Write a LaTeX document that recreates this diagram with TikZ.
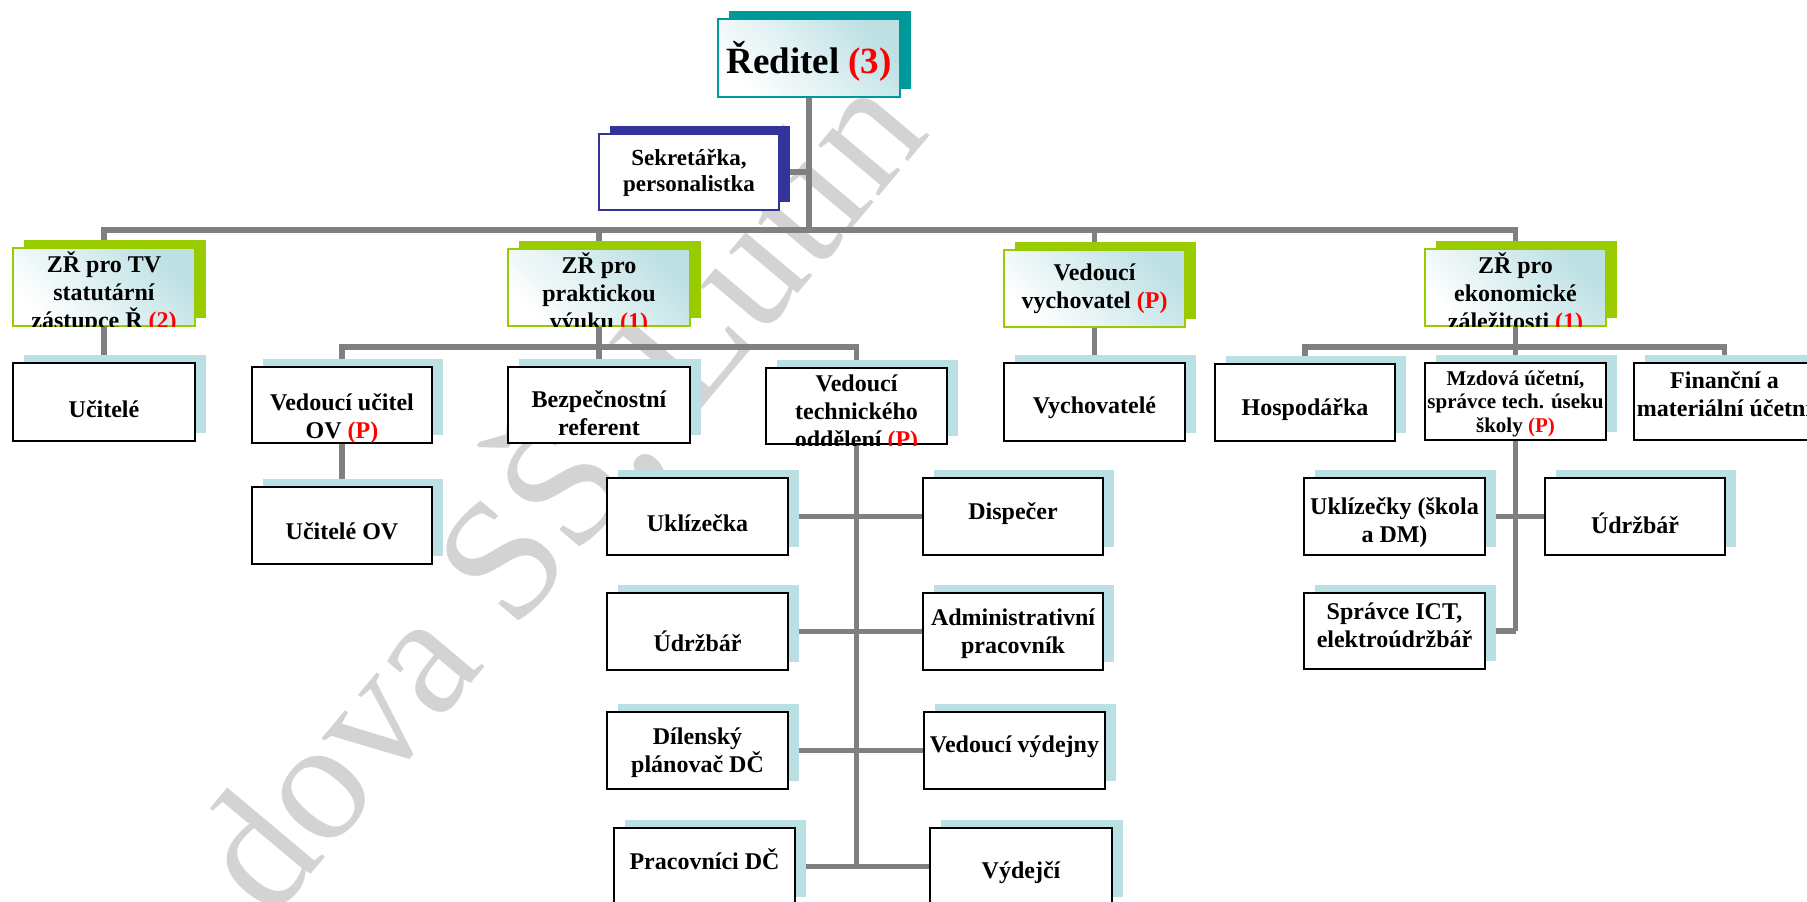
\documentclass[tikz,border=0pt]{standalone}
\usepackage{fontspec}
\setmainfont{Liberation Serif}
\usetikzlibrary{fit}
\pgfdeclarelayer{bg}
\pgfsetlayers{bg,main}
\definecolor{cgray}{HTML}{808080}
\definecolor{cgreen}{HTML}{99CC00}
\definecolor{cteal}{HTML}{009999}
\definecolor{cnavy}{HTML}{333399}
\definecolor{cshadow}{HTML}{BBE0E3}
\definecolor{cgrad}{HTML}{BCE0E4}
\definecolor{cred}{HTML}{FF0000}
\definecolor{cwater}{HTML}{D3D3D3}
\newcommand{\redtx}[1]{\textcolor{cred}{#1}}
\tikzset{
  cline/.style={draw=cgray, line width=5.5pt},
  txt/.style={font=\fontsize{24}{28}\selectfont\bfseries, align=center, inner sep=0pt},
  greensh/.style={fill=cgreen},
  tealsh/.style={fill=cteal},
  navysh/.style={fill=cnavy},
  bluesh/.style={fill=cshadow},
  gradfill/.style={shading=axis, top color=cgrad, bottom color=white, shading angle=-45},
  greenfr/.style={draw=cgreen, line width=1.5pt, inner sep=0pt, gradfill},
  tealfr/.style={draw=cteal, line width=1.5pt, inner sep=0pt, gradfill},
  navyfr/.style={draw=cnavy, line width=1.5pt, inner sep=0pt, fill=white},
  bluefr/.style={draw=black, line width=2pt, inner sep=0pt, fill=white},
}
\newcommand{\obox}[6][]{%
  \path[#5sh] ([shift={(11,-8)}]#3) rectangle ([shift={(11,-8)}]#4);
  \node[#5fr, fit={(#3) (#4)}] (#2) {};
  \begin{scope}
    \clip (#2.south west) rectangle (#2.north east);
    \node[txt, #1] (#2-t) at (#2.center) {#6};
  \end{scope}}
\begin{document}
\begin{tikzpicture}[x=1pt,y=-1pt]
\useasboundingbox (0,0) rectangle (1807,902);
\clip (0,0) rectangle (1807,902);

\obox[yshift=-3pt,font=\fontsize{37}{40}\selectfont\bfseries]{red}{718,19}{900,97}{teal}{Ředitel \redtx{(3)}}
\obox[yshift=-1pt,font=\fontsize{23}{26}\selectfont\bfseries]{sek}{599,134}{779,210}{navy}{Sekretářka,\\personalistka}
\obox[yshift=-6pt]{zrtv}{13,248}{195,326}{green}{ZŘ pro TV\\statutární\\zástupce Ř \redtx{(2)}}
\obox[yshift=-6pt]{zrpv}{508,249}{690,326}{green}{ZŘ pro\\praktickou\\výuku \redtx{(1)}}
\obox{vvych}{1004,250}{1185,327}{green}{Vedoucí\\vychovatel \redtx{(P)}}
\obox[yshift=-6pt]{zrek}{1425,249}{1606,326}{green}{ZŘ pro\\ekonomické\\záležitosti \redtx{(1)}}

\obox[yshift=-7pt]{ucit}{13,363}{195,441}{blue}{Učitelé}
\obox[yshift=-14pt]{vuov}{252,367}{432,443}{blue}{Vedoucí učitel\\OV \redtx{(P)}}
\obox[yshift=-8pt]{bezp}{508,367}{690,443}{blue}{Bezpečnostní\\referent}
\obox[yshift=-8pt]{vto}{766,368}{947,444}{blue}{Vedoucí\\technického\\oddělení \redtx{(P)}}
\obox[yshift=-6pt]{vychs}{1004,363}{1185,441}{blue}{Vychovatelé}
\obox[yshift=-7pt]{hosp}{1215,364}{1395,441}{blue}{Hospodářka}
\obox[yshift=-2pt,font=\fontsize{21}{23.5}\selectfont\bfseries]{mzd}{1425,363}{1606,440}{blue}{Mzdová účetní,\\správce tech. úseku\\školy \redtx{(P)}}
\obox[yshift=7pt]{fin}{1634,363}{1815,440}{blue}{Finanční a\\materiální účetní}

\obox[yshift=-6pt]{ucov}{252,487}{432,564}{blue}{Učitelé OV}
\obox[yshift=-7pt]{ukl}{607,478}{788,555}{blue}{Uklízečka}
\obox[yshift=3pt]{disp}{923,478}{1103,555}{blue}{Dispečer}
\obox[yshift=-10pt]{udr1}{607,593}{788,670}{blue}{Údržbář}
\obox[yshift=-2pt]{adm}{923,593}{1103,670}{blue}{Administrativní\\pracovník}
\obox[yshift=-2pt]{dil}{607,712}{788,789}{blue}{Dílenský\\plánovač DČ}
\obox[yshift=4pt]{vvyd}{924,712}{1105,789}{blue}{Vedoucí výdejny}
\obox[yshift=7pt]{prac}{614,828}{795,905}{blue}{Pracovníci DČ}
\obox[yshift=-6pt]{vyd}{930,828}{1112,905}{blue}{Výdejčí}
\obox[yshift=-6pt]{ukls}{1304,478}{1485,555}{blue}{Uklízečky (škola\\a DM)}
\obox[yshift=-7pt]{udr2}{1545,478}{1725,555}{blue}{Údržbář}
\obox[yshift=6pt]{spr}{1304,593}{1485,669}{blue}{Správce ICT,\\elektroúdržbář}

\begin{pgfonlayer}{bg}
  \fill[white] (0,0) rectangle (1807,902);
  \node[rotate=50, anchor=base east, inner sep=0pt, text=cwater,
        font=\fontsize{172}{172}\selectfont] (wm) at (932,134) {dova SŠ, Lutín};
  \coordinate (bus) at (809,230);
  \coordinate (pvbus) at (599,347);
  \coordinate (ekbus) at (1515,347);
  \draw[cline] (zrtv) |- (bus) -| (zrek);
  \draw[cline] (red) -- (bus);
  \draw[cline] (sek) -- (sek -| red);
  \draw[cline] (zrpv) -- (zrpv |- bus);
  \draw[cline] (vvych) -- (vvych |- bus);
  \draw[cline] (zrtv) -- (ucit);
  \draw[cline] (zrpv) -- (bezp);
  \draw[cline] (vuov) |- (pvbus) -| (vto);
  \draw[cline] (vuov) -- (ucov);
  \draw[cline] (vto) -- (vto |- prac);
  \draw[cline] (ukl) -- (disp);
  \draw[cline] (udr1) -- (adm);
  \draw[cline] (dil) -- (vvyd);
  \draw[cline] (prac) -- (vyd);
  \draw[cline] (vvych) -- (vychs);
  \draw[cline] (zrek) -- (mzd);
  \draw[cline] (hosp) |- (ekbus) -| (fin);
  \draw[cline] (mzd) -- (mzd |- spr);
  \draw[cline] (spr) -- (spr -| mzd);
  \draw[cline] (ukls) -- (udr2);
\end{pgfonlayer}
\end{tikzpicture}
\end{document}
